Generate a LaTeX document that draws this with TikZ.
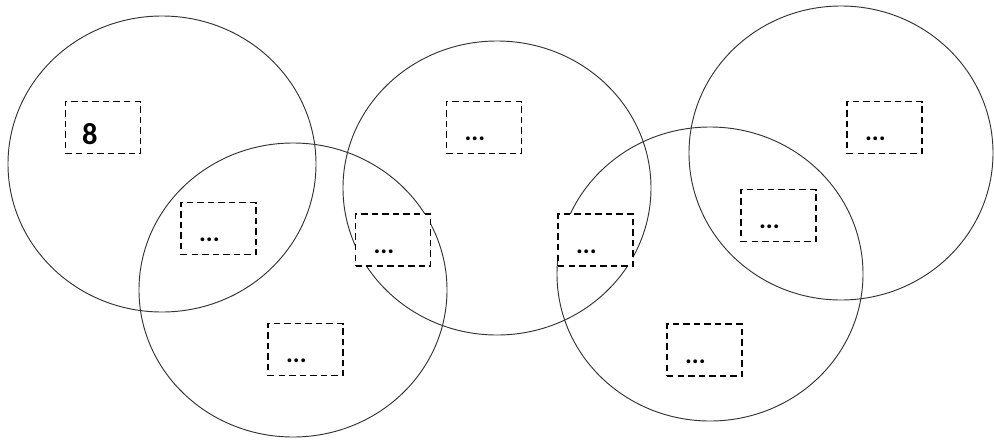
\documentclass[tikz,border=0pt]{standalone}
\usepackage{fontspec}
\setmainfont{Carlito}
\begin{document}
\begin{tikzpicture}[x=0.03cm,y=-0.03cm,
    ring/.style={line width=0.8pt,black!80},
    slot/.style={draw,dash pattern=on 5.5pt off 3.5pt,line width=1.1pt,fill=white,
      minimum width=2.25cm,minimum height=1.56cm,inner sep=0pt},
    tag/.style={inner sep=0pt,font=\bfseries\fontsize{26}{28}\selectfont},
    dots/.style={inner sep=0pt,font=\bfseries\fontsize{22}{24}\selectfont}]
  \useasboundingbox (0,0) rectangle (994,442);
  \draw[ring] (162,164) ellipse [x radius=4.62cm,y radius=4.44cm];
  \draw[ring] (293,290) ellipse [x radius=4.62cm,y radius=4.41cm];
  \draw[ring] (497,188) ellipse [x radius=4.62cm,y radius=4.41cm];
  \draw[ring] (710,274) ellipse [x radius=4.59cm,y radius=4.41cm];
  \draw[ring] (841,153) ellipse [x radius=4.56cm,y radius=4.41cm];
  \node[slot] (s1) at (103,127.5) {};
  \node[slot] (s2) at (218.5,228.5) {};
  \node[slot] (s3) at (305.5,349.5) {};
  \node[slot] (s4) at (393,240) {};
  \node[slot] (s5) at (484,127.5) {};
  \node[slot] (s6) at (595.5,240) {};
  \node[slot] (s7) at (884.5,127.5) {};
  \node[slot] (s8) at (778.5,215.5) {};
  \node[slot] (s9) at (704.5,350) {};
  \node[tag] (t1) at ([shift={(25,-20)}]s1.south west) {8};
  \node[dots] (t2) at ([shift={(29,-15)}]s2.south west) {...};
  \node[dots] (t3) at ([shift={(29,-15)}]s3.south west) {...};
  \node[dots] (t4) at ([shift={(29,-15)}]s4.south west) {...};
  \node[dots] (t5) at ([shift={(29,-15)}]s5.south west) {...};
  \node[dots] (t6) at ([shift={(29,-15)}]s6.south west) {...};
  \node[dots] (t7) at ([shift={(29,-15)}]s7.south west) {...};
  \node[dots] (t8) at ([shift={(29,-15)}]s8.south west) {...};
  \node[dots] (t9) at ([shift={(29,-15)}]s9.south west) {...};
\end{tikzpicture}
\end{document}
